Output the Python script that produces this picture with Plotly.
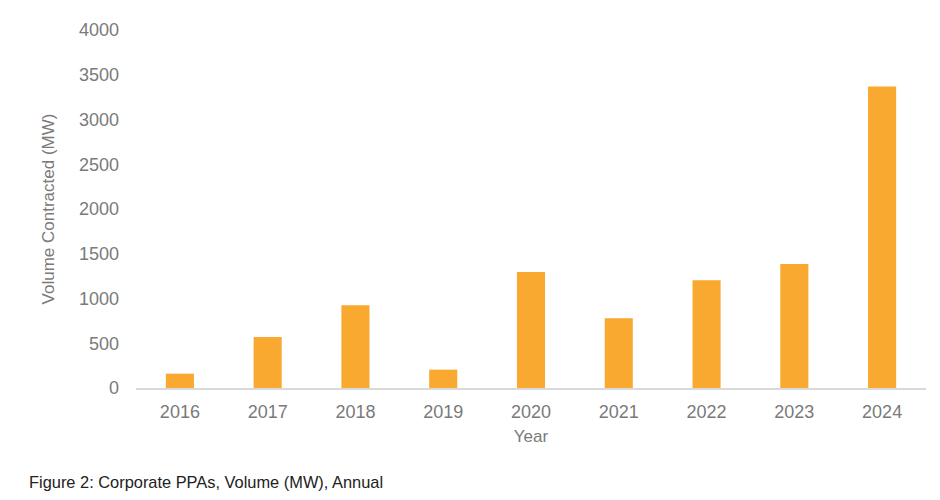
import plotly.graph_objects as go

years = ["2016", "2017", "2018", "2019", "2020", "2021", "2022", "2023", "2024"]
volume_mw = [160, 570, 925, 205, 1295, 780, 1205, 1385, 3370]
y_ticks = [0, 500, 1000, 1500, 2000, 2500, 3000, 3500, 4000]

BAR = "#F9A830"
GREY = "#7a7a7a"
FONT = "Liberation Sans, Arial, sans-serif"

# page body has an 8px margin; compensate so the picture lines up with 940x500
OFF = 8
W, H = 940 - OFF, 500 - OFF
L, R, T, B = 136 - OFF, 14, 20 - OFF, 112

fig = go.Figure(go.Bar(x=years, y=volume_mw, marker=dict(color=BAR, line=dict(width=0)),
                       hoverinfo="x+y"))

fig.update_layout(
    width=W, height=H,
    margin=dict(l=L, r=R, t=T, b=B),
    paper_bgcolor="white", plot_bgcolor="white",
    bargap=0.68,
    showlegend=False,
    font=dict(family=FONT, size=18, color=GREY),
)
fig.update_xaxes(
    type="category",
    showgrid=False, zeroline=False,
    showline=True, linecolor="#d9d9d9", linewidth=1.5,
    ticks="", ticklabelstandoff=7,
    tickfont=dict(size=18, color=GREY),
    title=dict(text="Year", font=dict(size=17, color=GREY), standoff=9),
)
fig.update_yaxes(
    range=[0, 4000],
    tickvals=y_ticks, ticktext=[str(v) for v in y_ticks],
    showgrid=False, zeroline=False, showline=False,
    ticks="", ticklabelstandoff=16,
    tickfont=dict(size=18, color=GREY),
    title=dict(text="Volume Contracted (MW)", font=dict(size=17, color=GREY), standoff=20),
)

pw, ph = W - L - R, H - T - B
fig.add_annotation(
    text="Figure 2: Corporate PPAs, Volume (MW), Annual",
    xref="paper", yref="paper",
    x=(27 - OFF - L) / pw, y=(H - B - (485 - OFF)) / ph,
    xanchor="left", yanchor="middle", showarrow=False,
    font=dict(family=FONT, size=16.4, color="#222222"),
)

fig.write_html("out.html")
